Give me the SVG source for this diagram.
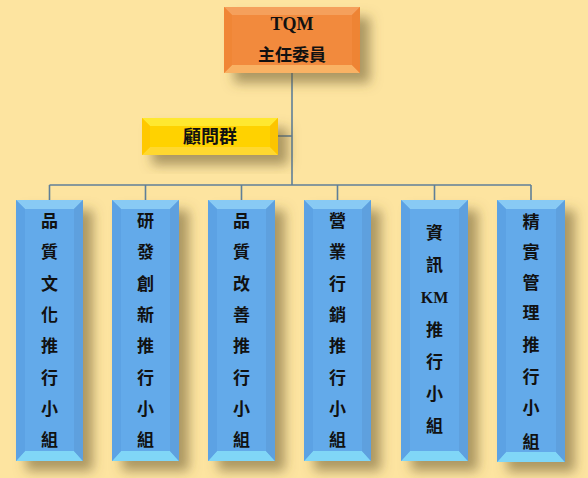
<svg xmlns="http://www.w3.org/2000/svg" width="588" height="478" viewBox="0 0 588 478">
<defs>
<filter id="sh" x="-40%" y="-40%" width="190%" height="190%">
<feDropShadow dx="10" dy="10" stdDeviation="6" flood-color="#6b5a30" flood-opacity="0.55"/>
</filter>
</defs>
<style>
.t{font-family:"Liberation Serif","Noto Sans CJK TC",serif;font-weight:bold;fill:#111;text-anchor:middle}
.line{stroke:#5f7f98;stroke-width:1.6;fill:none}
.bm{fill:#64aaea}.bt{fill:#88caf4}.bb{fill:#80d6f7}.bl{fill:#5ca2e4}.br{fill:#5ea0de}
.om{fill:#f28a3e}.ot{fill:#f5a05c}.ob{fill:#f9b264}.ol{fill:#f08636}.or{fill:#ee8434}
.ym{fill:#ffd200}.yt{fill:#ffe830}.yb{fill:#ffd830}.yl{fill:#ffc800}.yr{fill:#fcc400}
</style>
<rect width="588" height="478" fill="#fde4a0"/>
<g id="connectors" class="line">
<path d="M292 73V185"/>
<path d="M278 136H292"/>
<path d="M49.5 185H531"/>
<path d="M49.5 185V200M145.5 185V200M241.5 185V200M337.5 185V200M434.5 185V200M531 185V200"/>
</g>
<g id="tqm">
<g filter="url(#sh)">
<rect x="224" y="7" width="136" height="66" class="om"/>
</g>
<polygon points="224,7 360,7 352,15 232,15" class="ot"/>
<polygon points="224,73 360,73 352,65 232,65" class="ob"/>
<polygon points="224,7 232,15 232,65 224,73" class="ol"/>
<polygon points="360,7 352,15 352,65 360,73" class="or"/>
<text class="t" x="292" y="30" font-size="18">TQM</text>
<text class="t" x="292" y="61" font-size="17">主任委員</text>
</g>
<g id="advisor">
<g filter="url(#sh)">
<rect x="142" y="118" width="136" height="37" class="ym"/>
</g>
<polygon points="142,118 278,118 270,126 150,126" class="yt"/>
<polygon points="142,155 278,155 270,147 150,147" class="yb"/>
<polygon points="142,118 150,126 150,147 142,155" class="yl"/>
<polygon points="278,118 270,126 270,147 278,155" class="yr"/>
<text class="t" x="210" y="143" font-size="18">顧問群</text>
</g>
<g id="g1">
<g filter="url(#sh)"><rect x="16" y="200" width="67" height="261" class="bm"/></g>
<polygon points="16,200 83,200 74,209 25,209" class="bt"/>
<polygon points="16,461 83,461 74,451 25,451" class="bb"/>
<polygon points="16,200 25,209 25,451 16,461" class="bl"/>
<polygon points="83,200 74,209 74,451 83,461" class="br"/>
<g class="t" font-size="17">
<text x="49.5" y="227">品</text><text x="49.5" y="258">質</text><text x="49.5" y="290">文</text><text x="49.5" y="321">化</text><text x="49.5" y="352">推</text><text x="49.5" y="384">行</text><text x="49.5" y="415">小</text><text x="49.5" y="446">組</text>
</g>
</g>
<g id="g2">
<g filter="url(#sh)"><rect x="112" y="200" width="67" height="261" class="bm"/></g>
<polygon points="112,200 179,200 170,209 121,209" class="bt"/>
<polygon points="112,461 179,461 170,451 121,451" class="bb"/>
<polygon points="112,200 121,209 121,451 112,461" class="bl"/>
<polygon points="179,200 170,209 170,451 179,461" class="br"/>
<g class="t" font-size="17">
<text x="145.5" y="227">研</text><text x="145.5" y="258">發</text><text x="145.5" y="290">創</text><text x="145.5" y="321">新</text><text x="145.5" y="352">推</text><text x="145.5" y="384">行</text><text x="145.5" y="415">小</text><text x="145.5" y="446">組</text>
</g>
</g>
<g id="g3">
<g filter="url(#sh)"><rect x="208" y="200" width="67" height="261" class="bm"/></g>
<polygon points="208,200 275,200 266,209 217,209" class="bt"/>
<polygon points="208,461 275,461 266,451 217,451" class="bb"/>
<polygon points="208,200 217,209 217,451 208,461" class="bl"/>
<polygon points="275,200 266,209 266,451 275,461" class="br"/>
<g class="t" font-size="17">
<text x="241.5" y="227">品</text><text x="241.5" y="258">質</text><text x="241.5" y="290">改</text><text x="241.5" y="321">善</text><text x="241.5" y="352">推</text><text x="241.5" y="384">行</text><text x="241.5" y="415">小</text><text x="241.5" y="446">組</text>
</g>
</g>
<g id="g4">
<g filter="url(#sh)"><rect x="304" y="200" width="67" height="261" class="bm"/></g>
<polygon points="304,200 371,200 362,209 313,209" class="bt"/>
<polygon points="304,461 371,461 362,451 313,451" class="bb"/>
<polygon points="304,200 313,209 313,451 304,461" class="bl"/>
<polygon points="371,200 362,209 362,451 371,461" class="br"/>
<g class="t" font-size="17">
<text x="337.5" y="227">營</text><text x="337.5" y="258">業</text><text x="337.5" y="290">行</text><text x="337.5" y="321">銷</text><text x="337.5" y="352">推</text><text x="337.5" y="384">行</text><text x="337.5" y="415">小</text><text x="337.5" y="446">組</text>
</g>
</g>
<g id="g5">
<g filter="url(#sh)"><rect x="401" y="200" width="67" height="261" class="bm"/></g>
<polygon points="401,200 468,200 459,209 410,209" class="bt"/>
<polygon points="401,461 468,461 459,451 410,451" class="bb"/>
<polygon points="401,200 410,209 410,451 401,461" class="bl"/>
<polygon points="468,200 459,209 459,451 468,461" class="br"/>
<g class="t" font-size="17">
<text x="434.5" y="239">資</text><text x="434.5" y="271">訊</text><text x="434.5" y="303" font-size="16">KM</text><text x="434.5" y="336">推</text><text x="434.5" y="368">行</text><text x="434.5" y="400">小</text><text x="434.5" y="432">組</text>
</g>
</g>
<g id="g6">
<g filter="url(#sh)"><rect x="497" y="200" width="68" height="262" class="bm"/></g>
<polygon points="497,200 565,200 556,209 506,209" class="bt"/>
<polygon points="497,462 565,462 556,452 506,452" class="bb"/>
<polygon points="497,200 506,209 506,452 497,462" class="bl"/>
<polygon points="565,200 556,209 556,452 565,462" class="br"/>
<g class="t" font-size="17">
<text x="531" y="228">精</text><text x="531" y="258">實</text><text x="531" y="289">管</text><text x="531" y="319">理</text><text x="531" y="351">推</text><text x="531" y="383">行</text><text x="531" y="414">小</text><text x="531" y="448">組</text>
</g>
</g>
</svg>
